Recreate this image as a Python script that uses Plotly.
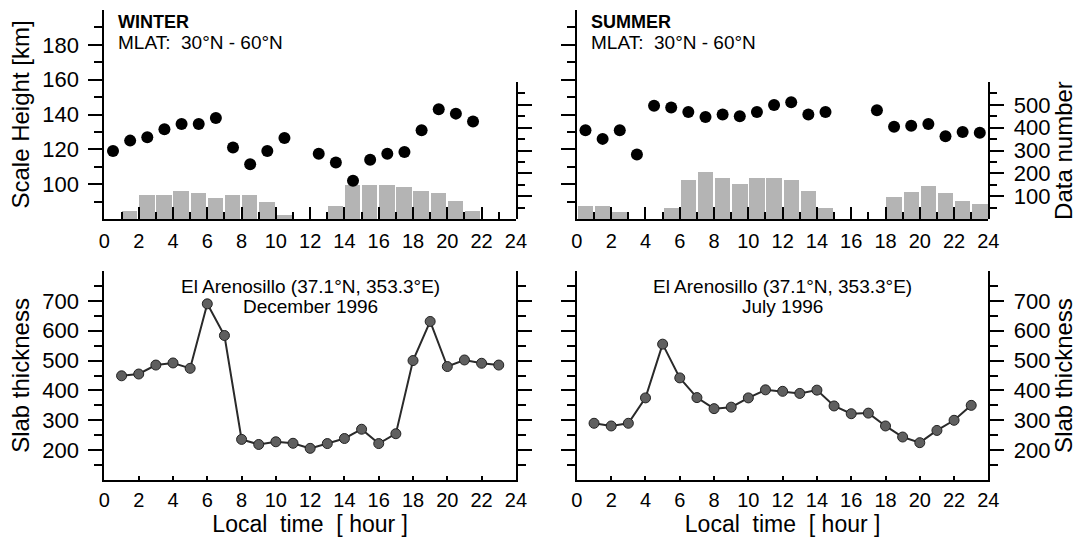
import plotly.graph_objects as go

# ---------------- data ----------------
hours_half = [h + 0.5 for h in range(24)]      # bin centres for top panels
hours_int = list(range(1, 24))                   # hourly points for bottom panels

winter_scale_height = [119, 125, 127, 131.5, 134.5, 134.5, 138, 121, 111.5, 119, 126.5, None,
                       117.5, 112.5, 102, 114, 117.5, 118.5, 131, 143, 140.5, 136, None, None]
summer_scale_height = [131, 126, 131, 117, 145, 144, 141.5, 138.5, 140, 139, 141.5, 145.5,
                       147, 140, 141.5, None, None, 142.5, 133, 133.5, 134.5, 127.5, 130, 129.5]

winter_data_number = [None, 33, 106, 106, 121, 116, 92, 106, 106, 73, 19, None,
                      None, 58, 147, 147, 147, 140, 121, 116, 81, 33, None, None]
summer_data_number = [55, 55, 32, None, None, 47, 169, 204, 179, 154, 179, 179,
                      169, 121, 47, None, None, None, 95, 120, 145, 114, 80, 65]

winter_slab = [449, 455, 485, 492, 474, 690, 584, 236, 219, 228, 223, 206,
               222, 239, 270, 222, 255, 500, 631, 480, 502, 491, 485]
summer_slab = [290, 281, 290, 375, 555, 442, 376, 339, 344, 375, 402, 397,
               390, 401, 348, 322, 324, 281, 244, 225, 266, 300, 350]

x_tickvals = list(range(0, 25, 2))
x_minor = list(range(1, 24, 2))
sh_major = [100, 120, 140, 160, 180]
sh_minor = [90, 110, 130, 150, 170, 190]
dn_major = [100, 200, 300, 400, 500]
dn_minor = [50, 150, 250, 350, 450, 550]
st_major = [200, 300, 400, 500, 600, 700]
st_minor = [150, 250, 350, 450, 550, 650, 750]

W, H = 1085, 539
FONT = "Liberation Sans, Arial, sans-serif"


def xd(a, b):
    return [a / W, b / W]


def yd(top, bottom):
    return [1 - bottom / H, 1 - top / H]


fig = go.Figure()

# bars (data number) -> lower-numbered y axes so they are drawn beneath the dots
fig.add_trace(go.Bar(x=hours_half, y=winter_data_number, width=0.9,
                     marker=dict(color="#b4b4b4", line=dict(width=0)),
                     xaxis="x", yaxis="y", showlegend=False))
fig.add_trace(go.Bar(x=hours_half, y=summer_data_number, width=0.9,
                     marker=dict(color="#b4b4b4", line=dict(width=0)),
                     xaxis="x2", yaxis="y2", showlegend=False))
# dots (scale height)
fig.add_trace(go.Scatter(x=hours_half, y=winter_scale_height, mode="markers",
                         marker=dict(color="black", size=12),
                         xaxis="x", yaxis="y5", showlegend=False))
fig.add_trace(go.Scatter(x=hours_half, y=summer_scale_height, mode="markers",
                         marker=dict(color="black", size=12),
                         xaxis="x2", yaxis="y6", showlegend=False))
# slab thickness
fig.add_trace(go.Scatter(x=hours_int, y=winter_slab, mode="lines+markers",
                         line=dict(color="#2a2a2a", width=2),
                         marker=dict(color="#5f5f5f", size=10, line=dict(color="#222", width=1)),
                         xaxis="x3", yaxis="y3", showlegend=False))
fig.add_trace(go.Scatter(x=hours_int, y=summer_slab, mode="lines+markers",
                         line=dict(color="#2a2a2a", width=2),
                         marker=dict(color="#5f5f5f", size=10, line=dict(color="#222", width=1)),
                         xaxis="x4", yaxis="y4", showlegend=False))

ytickfont = dict(family=FONT, size=22, color="black")
xtickfont = dict(family=FONT, size=20, color="black")
titlefont = dict(family=FONT, size=24, color="black")
common = dict(showline=True, linecolor="black", linewidth=2, showgrid=False, zeroline=False,
              tickcolor="black")


def xtop(domain, anchor):
    return dict(common, domain=domain, anchor=anchor, range=[0, 24], tickmode="array",
                tickvals=x_tickvals, ticks="inside", ticklen=12, tickwidth=2,
                tickfont=xtickfont, ticklabelstandoff=3,
                minor=dict(tickmode="array", tickvals=x_minor, ticks="inside", ticklen=7,
                           tickwidth=2, tickcolor="black"))


def xbot(domain, anchor):
    return dict(common, domain=domain, anchor=anchor, range=[0, 24], tickmode="array",
                tickvals=x_tickvals, ticks="inside", ticklen=4, tickwidth=1.5,
                tickfont=xtickfont, ticklabelstandoff=1,
                title=dict(text="Local\u00a0 time\u00a0 [ hour ]",
                           font=dict(family=FONT, size=23, color="black"), standoff=3))


def yax(domain, anchor, rng, major, minor, minor_len, side="left", labels=True, title=None,
        mirror=False, standoff=6):
    d = dict(common, domain=domain, anchor=anchor, side=side, range=rng, tickmode="array",
             tickvals=major, ticks="outside", ticklen=14, tickwidth=1.5,
             tickfont=ytickfont, showticklabels=labels, ticklabelstandoff=5,
             minor=dict(tickmode="array", tickvals=minor, ticks="outside", ticklen=minor_len,
                        tickwidth=1.5, tickcolor="black"))
    if mirror:
        d["mirror"] = "ticks"
    if title:
        d["title"] = dict(text=title, font=titlefont, standoff=standoff)
    return d


TOP = yd(10, 219)
DN = yd(82, 219)
BOT = yd(271, 480)
XL = xd(100, 518)
XR = xd(580, 998)

fig.update_layout(
    width=W, height=H, margin=dict(l=0, r=0, t=0, b=0),
    paper_bgcolor="white", plot_bgcolor="rgba(0,0,0,0)",
    barmode="overlay", bargap=0,
    xaxis=xtop(XL, "y5"),
    xaxis2=xtop(XR, "y6"),
    xaxis3=xbot(XL, "y3"),
    xaxis4=xbot(XR, "y4"),
    # data number axes (bars)
    yaxis=yax(DN, "x", [0, 600], dn_major, dn_minor, 7, side="right", labels=False),
    yaxis2=yax(DN, "x2", [0, 600], dn_major, dn_minor, 7, side="right", labels=True,
               title="Data number", standoff=4),
    # scale height axes (dots)
    yaxis5=yax(TOP, "x", [80, 200], sh_major, sh_minor, 8, title="Scale Height [km]"),
    yaxis6=yax(TOP, "x2", [80, 200], sh_major, sh_minor, 8, labels=False),
    # slab thickness
    yaxis3=yax(BOT, "x3", [100, 800], st_major, st_minor, 8, title="Slab thickness",
               mirror=True),
    yaxis4=yax(BOT, "x4", [100, 800], st_major, st_minor, 8, side="right",
               title="Slab thickness", mirror=True, standoff=4),
)

ann_font = dict(family=FONT, size=19, color="black")
bold_font = dict(family=FONT, size=18, color="black")
annotations = [
    dict(text="<b>WINTER</b>", x=112 / W, y=1 - 22 / H, xref="paper", yref="paper",
         xanchor="left", yanchor="middle", showarrow=False, font=bold_font),
    dict(text="MLAT:\u00a0 30°N - 60°N", x=112 / W, y=1 - 43 / H, xref="paper", yref="paper",
         xanchor="left", yanchor="middle", showarrow=False, font=ann_font),
    dict(text="<b>SUMMER</b>", x=592 / W, y=1 - 22 / H, xref="paper", yref="paper",
         xanchor="left", yanchor="middle", showarrow=False, font=bold_font),
    dict(text="MLAT:\u00a0 30°N - 60°N", x=592 / W, y=1 - 43 / H, xref="paper", yref="paper",
         xanchor="left", yanchor="middle", showarrow=False, font=ann_font),
    dict(text="El Arenosillo (37.1°N, 353.3°E)", x=12, xref="x3", y=1 - 286 / H, yref="paper",
         xanchor="center", yanchor="middle", showarrow=False, font=ann_font),
    dict(text="December 1996", x=12, xref="x3", y=1 - 306 / H, yref="paper",
         xanchor="center", yanchor="middle", showarrow=False, font=ann_font),
    dict(text="El Arenosillo (37.1°N, 353.3°E)", x=12, xref="x4", y=1 - 286 / H, yref="paper",
         xanchor="center", yanchor="middle", showarrow=False, font=ann_font),
    dict(text="July 1996", x=12, xref="x4", y=1 - 306 / H, yref="paper",
         xanchor="center", yanchor="middle", showarrow=False, font=ann_font),
]
fig.update_layout(annotations=annotations)

fig.write_html("out.html")
